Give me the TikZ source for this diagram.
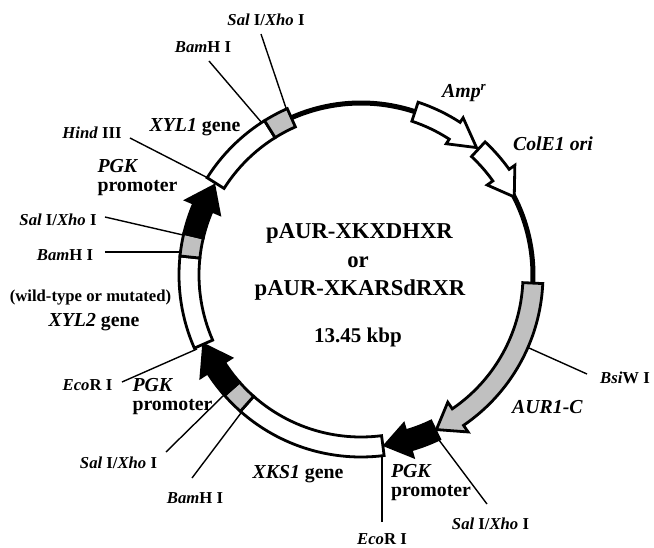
\documentclass[tikz,border=0pt]{standalone}
\usepackage{fontspec}
\setmainfont{Liberation Serif}
\newcommand\ringblock[3]{\draw[featline,fill=#3] (#1:162) arc[start angle=#1,end angle=#2,radius=162] -- (#2:182) arc[start angle=#2,end angle=#1,radius=182] -- cycle;}
\newcommand\ringarrow[5]{\draw[featline,fill=#5] (#1:162) arc[start angle=#1,end angle=#2,radius=162] -- (#2:{172-#4}) -- (#3:172) -- (#2:{172+#4}) -- (#2:182) arc[start angle=#2,end angle=#1,radius=182] -- cycle;}
\definecolor{graybox}{RGB}{192,192,192}
\tikzset{
  x=1pt,y=1pt,
  backbone/.style={line width=5pt,line cap=butt},
  featline/.style={line width=2.8pt,line join=miter,draw=black},
  leader/.style={line width=1.4pt,draw=black},
  site/.style={font=\fontsize{16.7}{18}\selectfont\bfseries,inner sep=0pt,anchor=center},
  genelab/.style={font=\fontsize{19.8}{19}\selectfont\bfseries,inner sep=0pt,anchor=center},
  title/.style={font=\fontsize{22.7}{24}\selectfont\bfseries,inner sep=0pt,anchor=center},
}
\newcommand\itb[1]{\textit{#1}}
\begin{document}
\begin{tikzpicture}
\useasboundingbox (-361,-272) rectangle (293,275);
% backbone
\draw[backbone] (114:172) arc[start angle=114,end angle=71,radius=172];
\draw[backbone] (28:172) arc[start angle=28,end angle=-3,radius=172];
% features (clockwise)
\ringarrow{71.7}{57}{47.8}{15.5}{white}
\ringarrow{47}{35.5}{27}{17}{white}
\ringarrow{357.3}{304.3}{296}{18}{graybox}
\ringarrow{295.6}{286}{278}{17}{black}
\ringblock{277.3}{228.5}{white}
\ringblock{228.5}{221.4}{graybox}
\ringarrow{221.4}{212.6}{203.8}{18}{black}
\ringblock{203.7}{174}{white}
\ringblock{174}{166.8}{graybox}
\ringarrow{166.8}{156.8}{148.7}{18}{black}
\ringblock{147.7}{122}{white}
\ringblock{122}{113.9}{graybox}
\begin{scope}[shift={(-361,275)},y=-1pt]
% ring attachment points and free ends
\coordinate (r1) at (286,108); \coordinate (e1) at (261,34);
\coordinate (r2) at (262,123); \coordinate (e2) at (209,61);
\coordinate (r3) at (208,178); \coordinate (e3) at (130,138);
\coordinate (r4) at (183,235); \coordinate (e4) at (105,217);
\coordinate (r5) at (180,252); \coordinate (e5) at (105,252);
\coordinate (r6) at (197,349); \coordinate (e6) at (122,382);
\coordinate (r7) at (223,396); \coordinate (e7) at (166,452);
\coordinate (r8) at (241,413); \coordinate (e8) at (192,478);
\coordinate (r9) at (382,456); \coordinate (e9) at (382,522);
\coordinate (r10) at (439,440); \coordinate (e10) at (487,504);
\coordinate (r11) at (529,348); \coordinate (e11) at (587,374);
\foreach \i in {1,...,11} {\draw[leader] (e\i) -- (r\i);}
% labels
\node[site] (salA) at (266,20) {\itb{Sal} I/\itb{Xho} I};
\node[site] (bamA) at (203,47) {\itb{Bam}H I};
\node[genelab] (xyl1) at (195,127) {\itb{XYL1} gene};
\node[site] (hind) at (92,133) {\itb{Hind} III};
\node[genelab,align=left] (pgkA) at (137.5,178) {\itb{PGK}\\promoter};
\node[site] (salB) at (58,220) {\itb{Sal} I/\itb{Xho} I};
\node[site] (bamB) at (65,255) {\itb{Bam}H I};
\node[site] (wild) at (90.5,298) {(wild-type or mutated)};
\node[genelab] (xyl2) at (94,322) {\itb{XYL2} gene};
\node[site] (ecoA) at (87.5,385) {\itb{Eco}R I};
\node[genelab,align=left] (pgkB) at (172.5,397) {\itb{PGK}\\promoter};
\node[site] (salC) at (118.5,463) {\itb{Sal} I/\itb{Xho} I};
\node[site] (bamC) at (195,498) {\itb{Bam}H I};
\node[genelab] (xks) at (298,474) {\itb{XKS1} gene};
\node[site] (ecoB) at (382,539) {\itb{Eco}R I};
\node[genelab,align=left] (pgkC) at (431,482.5) {\itb{PGK}\\promoter};
\node[site] (salD) at (490.5,524) {\itb{Sal} I/\itb{Xho} I};
\node[genelab] (aur) at (547.5,407) {\itb{AUR1-C}};
\node[site] (bsi) at (625,378) {\itb{Bsi}W I};
\node[genelab] (amp) at (464,93) {\itb{Amp}\raisebox{0.35em}{\fontsize{13}{13}\selectfont\itb{r}}};
\node[genelab] (col) at (553,144) {\itb{ColE1 ori}};
\node[title] (t1) at (359.5,233) {pAUR-XKXDHXR};
\node[title] (t2) at (358,262) {or};
\node[title] (t3) at (360,290) {pAUR-XKARSdRXR};
\node[genelab,font=\fontsize{21}{22}\selectfont\bfseries] (t4) at (358,337) {13.45 kbp};
\end{scope}
\end{tikzpicture}
\end{document}
